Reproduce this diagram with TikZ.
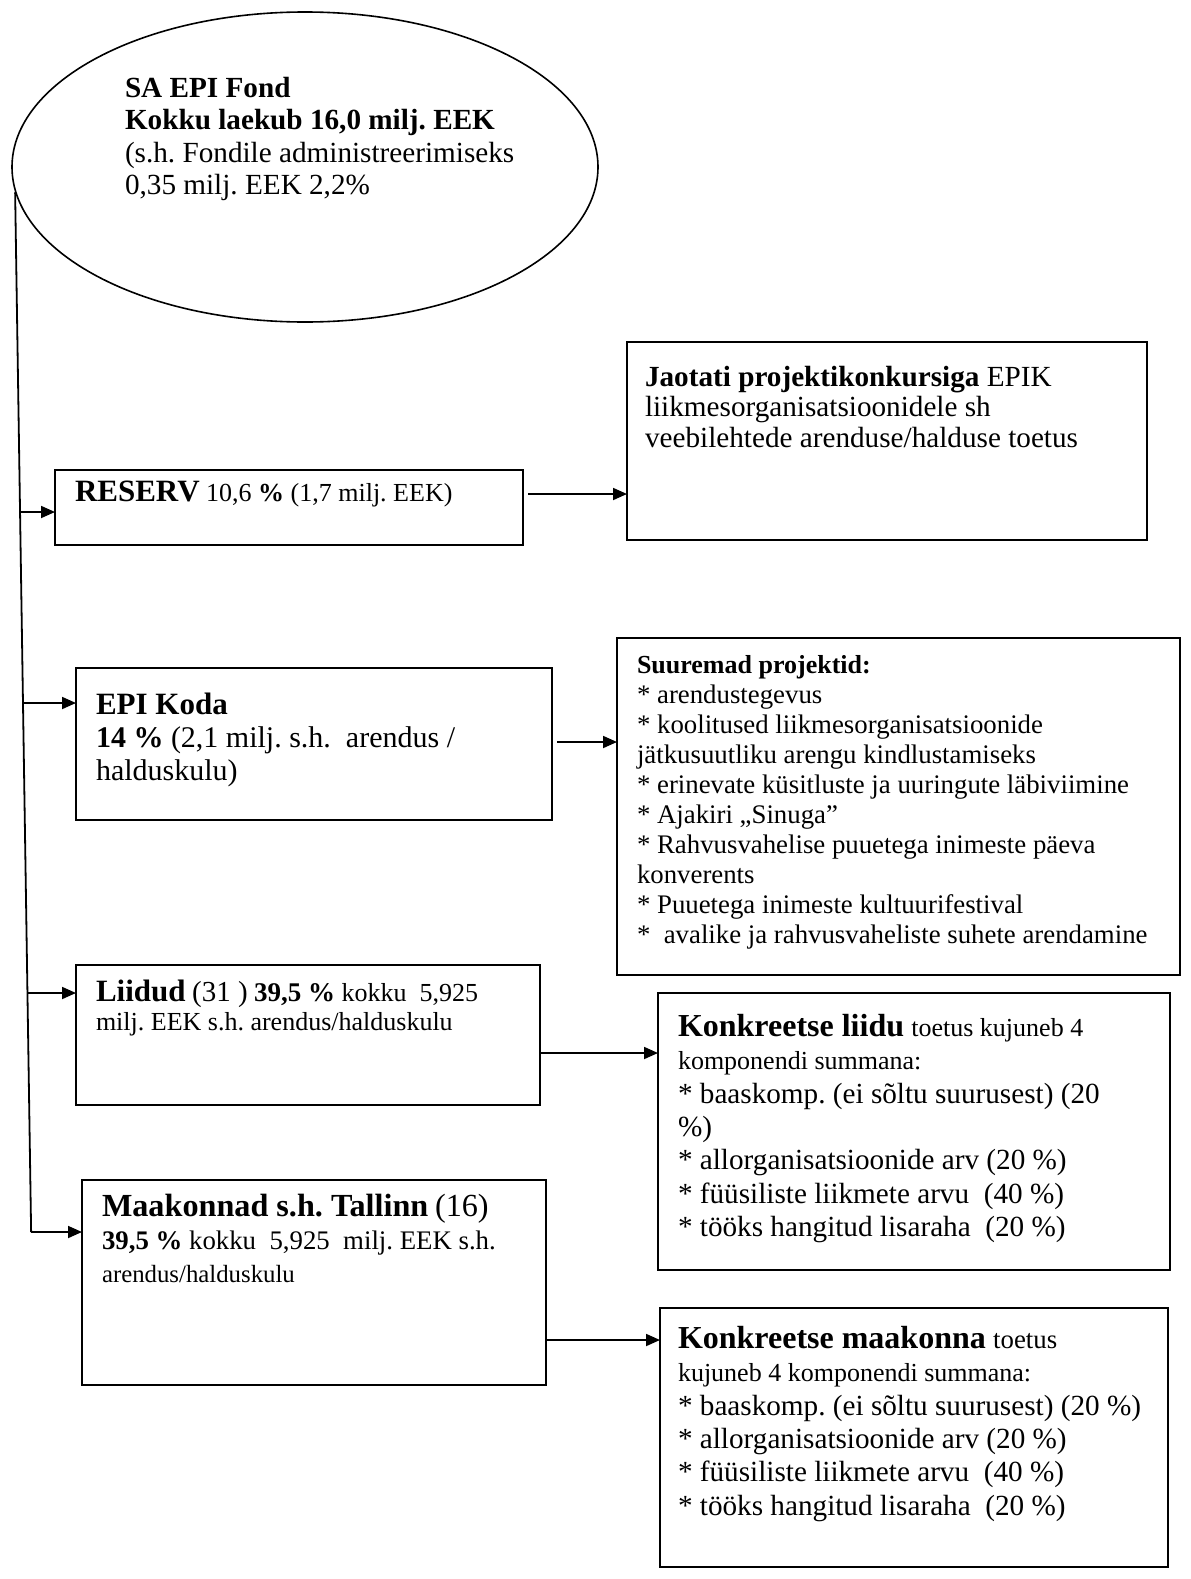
\documentclass[tikz,border=0pt]{standalone}
\usepackage{fontspec}
\setmainfont{Liberation Serif}
\usetikzlibrary{shapes.geometric,arrows.meta}
\newcommand{\fsz}[2]{\fontsize{#1}{#2}\selectfont}
\frenchspacing
\begin{document}
\begin{tikzpicture}[x=0.5pt,y=-0.5pt,
  boxst/.style={draw, line width=1pt, rectangle, inner sep=0pt, outer sep=0pt, anchor=north west},
  txt/.style={anchor=north west, inner sep=0pt, outer sep=0pt, align=left},
  arr/.style={line width=0.9pt, -{Triangle[length=7pt,width=6pt]}},
  trunkst/.style={line width=0.9pt}]
\fill[white] (0,0) rectangle (1190,1579);
\useasboundingbox (0,0) rectangle (1190,1579);

% top ellipse
\node[draw, ellipse, line width=0.8pt, inner sep=0pt, minimum width=293pt, minimum height=155pt] (fond) at (305,167) {};
\node[txt, font=\fsz{14.6}{16.2}] (fondtxt) at (125,77)
  {{\bfseries SA EPI Fond}\\
   {\bfseries Kokku laekub 16,0 milj. EEK}\\
   (s.h. Fondile administreerimiseks\\
   0,35 milj. EEK 2,2\%};

% left boxes
\node[boxst, minimum width=234pt, minimum height=37.5pt] (reserv) at (55,470) {};
\node[txt, font=\fsz{13}{14}] (reservtxt) at (75,481)
  {{\fsz{15.5}{15.5}\bfseries RESERV} 10,6 {\bfseries\%} (1,7 milj. EEK)};

\node[boxst, minimum width=238pt, minimum height=76pt] (koda) at (76,668) {};
\node[txt, font=\fsz{15}{16.5}] (kodatxt) at (96,693)
  {{\fsz{15.5}{15.5}\bfseries EPI Koda}\\
   {\bfseries 14 \%} (2,1 milj. s.h.\ \ arendus /\\
   halduskulu)};

\node[boxst, minimum width=232pt, minimum height=70pt] (liidud) at (76,965) {};
\node[txt, font=\fsz{13}{14.5}] (liidudtxt) at (96,980)
  {{\fsz{15.5}{15.5}\bfseries Liidud} {\fsz{14.5}{14.5}(31 )} {\fsz{13.5}{13.5}\bfseries 39,5 \%} kokku\ \ 5,925\\
   milj. EEK s.h. arendus/halduskulu};

\node[boxst, minimum width=232pt, minimum height=102.5pt] (maak) at (82,1180) {};
\node[txt, font=\fsz{13.4}{16.5}] (maaktxt) at (102,1194)
  {{\fsz{16.1}{16.1}\bfseries Maakonnad s.h. Tallinn} {\fsz{16.1}{16.1}(16)}\\
   {\bfseries 39,5 \%} kokku\ \ 5,925\ \ milj. EEK s.h.\\
   {\fsz{12.4}{12.4}arendus/halduskulu}};

% right boxes
\node[boxst, minimum width=260pt, minimum height=99pt] (jaotati) at (627,342) {};
\node[txt, font=\fsz{14.6}{15.2}] (jaotatitxt) at (645,366)
  {{\bfseries Jaotati projektikonkursiga} EPIK\\
   liikmesorganisatsioonidele sh\\
   veebilehtede arenduse/halduse toetus};

\node[boxst, minimum width=281.5pt, minimum height=168.5pt] (suuremad) at (617,638) {};
\node[txt, font=\fsz{13.4}{15}] (suuremadtxt) at (637,655)
  {{\fsz{13}{13}\bfseries Suuremad projektid:}\\
   * arendustegevus\\
   * koolitused liikmesorganisatsioonide\\
   jätkusuutliku arengu kindlustamiseks\\
   * erinevate küsitluste ja uuringute läbiviimine\\
   * Ajakiri „Sinuga”\\
   * Rahvusvahelise puuetega inimeste päeva\\
   konverents\\
   * Puuetega inimeste kultuurifestival\\
   *\ \ avalike ja rahvusvaheliste suhete arendamine};

\node[boxst, minimum width=256pt, minimum height=138.5pt] (kliidu) at (658,993) {};
\node[txt, font=\fsz{14.6}{16.7}] (kliidutxt) at (678,1014)
  {{\fsz{16}{16}\bfseries Konkreetse liidu} {\fsz{13}{13}toetus kujuneb 4}\\
   {\fsz{13}{13}komponendi summana:}\\
   * baaskomp. (ei sõltu suurusest) (20\\
   \%)\\
   * allorganisatsioonide arv (20 \%)\\
   * füüsiliste liikmete arvu\ \ (40 \%)\\
   * tööks hangitud lisaraha\ \ (20 \%)};

\node[boxst, minimum width=254pt, minimum height=129.5pt] (kmaak) at (660,1308) {};
\node[txt, font=\fsz{14.6}{16.7}] (kmaaktxt) at (678,1326)
  {{\fsz{16}{16}\bfseries Konkreetse maakonna} {\fsz{13.4}{13.4}toetus}\\
   {\fsz{13}{13}kujuneb 4 komponendi summana:}\\
   * baaskomp. (ei sõltu suurusest) (20 \%)\\
   * allorganisatsioonide arv (20 \%)\\
   * füüsiliste liikmete arvu\ \ (40 \%)\\
   * tööks hangitud lisaraha\ \ (20 \%)};

% trunk
\coordinate (ttop) at (fond.185);
\coordinate (tbot) at ([xshift=8pt]ttop |- 0,1232);
\draw[trunkst] (ttop) -- ([xshift=8pt]ttop |- 0,1232);

% branch arrows
\draw[arr] ([xshift=2pt]ttop |- 0,512) -- (reserv.west |- 0,512);
\draw[arr] ([xshift=3.5pt]ttop |- 0,703) -- (koda.west |- 0,703);
\draw[arr] ([xshift=6pt]ttop |- 0,993) -- (liidud.west |- 0,993);
\draw[arr] (tbot) -- (maak.west |- tbot);

% right arrows
\draw[arr] ([xshift=2.5pt]reserv.east |- 0,494) -- (jaotati.west |- 0,494);
\draw[arr] ([xshift=2.5pt]koda.east |- 0,742) -- (suuremad.west |- 0,742);
\draw[arr] (liidud.east |- 0,1053) -- (kliidu.west |- 0,1053);
\draw[arr] (maak.east |- 0,1340) -- (kmaak.west |- 0,1340);
\end{tikzpicture}
\end{document}
